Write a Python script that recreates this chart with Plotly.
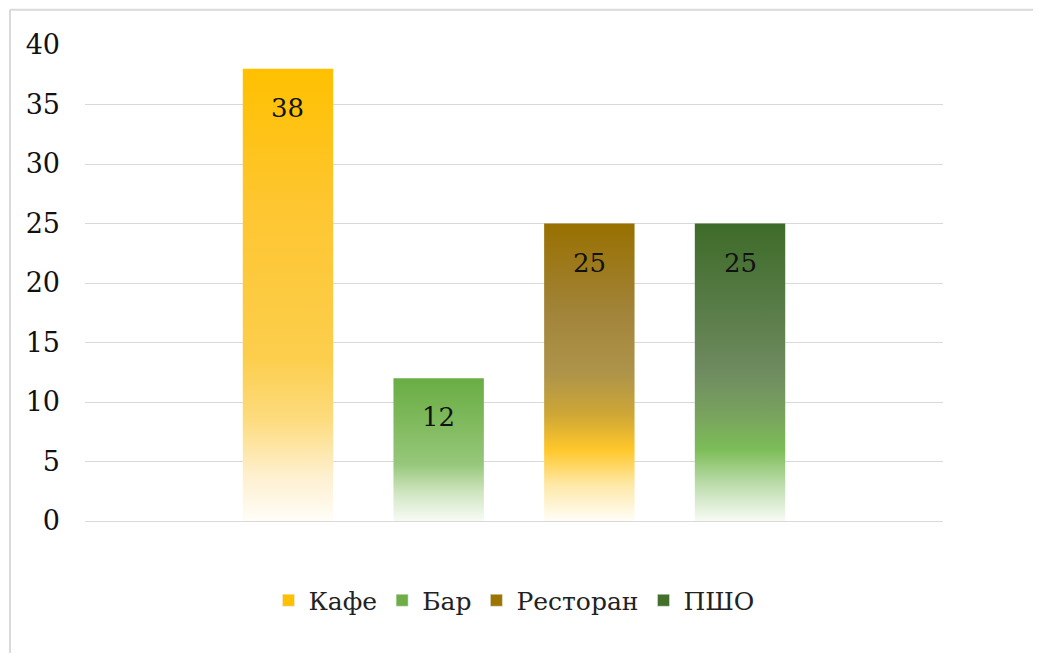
import plotly.graph_objects as go

# Data
categories = ["Кафе", "Бар", "Ресторан", "ПШО"]
values = [38, 12, 25, 25]
y_ticks = [0, 5, 10, 15, 20, 25, 30, 35, 40]

# Vertical gradients (bottom -> top), Excel style
gradients = [
    [[0, "#FFFDF8"], [0.1, "#FEF0CF"], [0.22, "#FDDC80"], [0.36, "#FCCE4C"],
     [0.7, "#FEC630"], [1, "#FFC000"]],
    [[0, "#F8FBF5"], [0.2, "#CFE5C0"], [0.4, "#96C77A"], [0.7, "#7FB95C"],
     [1, "#69AD44"]],
    [[0, "#FFFDF7"], [0.12, "#FEE9A8"], [0.24, "#FFC72A"], [0.36, "#CDA636"],
     [0.5, "#AD944A"], [0.7, "#A2843A"], [1, "#987000"]],
    [[0, "#F7FBF4"], [0.12, "#BEDDAE"], [0.24, "#7CBD57"], [0.36, "#78A25E"],
     [0.5, "#6F8B60"], [0.7, "#5A7D49"], [1, "#3E6B29"]],
]
legend_colors = ["#FFC000", "#70AD47", "#9C7400", "#426F2C"]

font_family = "DejaVu Serif"
half_width = 0.3

fig = go.Figure()

for i, (name, val) in enumerate(zip(categories, values)):
    # the bar itself, drawn as a gradient-filled polygon
    fig.add_trace(go.Scatter(
        x=[i - half_width, i + half_width, i + half_width, i - half_width, i - half_width],
        y=[0, 0, val, val, 0],
        mode="none",
        fill="toself",
        fillgradient=dict(type="vertical", colorscale=gradients[i]),
        name=name,
        showlegend=False,
        hoverinfo="name+y",
    ))
    # legend entry with a square swatch
    fig.add_trace(go.Bar(
        x=[None], y=[None],
        name=name,
        marker_color=legend_colors[i],
        showlegend=True,
    ))
    # data label just inside the top of the bar
    fig.add_annotation(
        x=i, y=val, text=str(val), showarrow=False,
        yanchor="top", yshift=-22,
        font=dict(family=font_family, size=26, color="#111111"),
    )

# Outer chart border (left and top edges only visible)
fig.add_shape(type="line", xref="paper", yref="paper",
              x0=-0.0874, x1=-0.0874, y0=-0.5, y1=1.0738,
              line=dict(color="#D9D9D9", width=2))
fig.add_shape(type="line", xref="paper", yref="paper",
              x0=-0.0874, x1=1.2, y0=1.0738, y1=1.0738,
              line=dict(color="#D9D9D9", width=2))

fig.update_layout(
    width=1031, height=645,
    margin=dict(l=77, r=96, t=37, b=132),
    paper_bgcolor="white",
    plot_bgcolor="white",
    font=dict(family=font_family, size=26, color="#111111"),
    showlegend=True,
    legend=dict(
        orientation="h",
        x=0.5, xanchor="center",
        y=-0.167, yanchor="middle",
        font=dict(family=font_family, size=25, color="#222222"),
    ),
    xaxis=dict(
        range=[-1.347, 4.347],
        showticklabels=False,
        showgrid=False,
        zeroline=False,
        fixedrange=True,
    ),
    yaxis=dict(
        range=[0, 40],
        tickvals=y_ticks,
        ticktext=[str(t) for t in y_ticks],
        showgrid=True,
        gridcolor="#D9D9D9",
        gridwidth=1,
        zeroline=True,
        zerolinecolor="#D9D9D9",
        zerolinewidth=1,
        ticks="",
        ticklabelstandoff=24,
        tickfont=dict(family=font_family, size=27, color="#111111"),
    ),
)

fig.write_html("out.html")
